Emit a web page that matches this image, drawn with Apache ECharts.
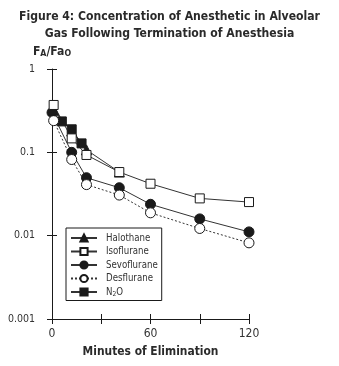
<!DOCTYPE html>
<html>
<head>
<meta charset="utf-8">
<script src="https://cdn.jsdelivr.net/npm/echarts@6/dist/echarts.min.js"></script>
<style>
  html, body { margin: 0; padding: 0; background: #fff; }
  #chart { width: 339px; height: 366px; }
</style>
</head>
<body>
<div id="chart"></div>
<script>
// Alveolar concentration ratio (FA/FA0) after anesthesia ends, by agent
const halothaneMin = [1, 12, 21, 41];
const halothaneVal = [0.32, 0.18, 0.107, 0.058];

const isofluraneMin = [1, 12, 21, 41, 60, 90, 120];
const isofluraneVal = [0.37, 0.147, 0.093, 0.058, 0.042, 0.028, 0.0253];

const sevofluraneMin = [0, 12, 21, 41, 60, 90, 120];
const sevofluraneVal = [0.30, 0.100, 0.0496, 0.0376, 0.0238, 0.0159, 0.0111];

const desfluraneMin = [1, 12, 21, 41, 60, 90, 120];
const desfluraneVal = [0.24, 0.082, 0.041, 0.0307, 0.0188, 0.0122, 0.0082];

const n2oMin = [6, 12, 18];
const n2oVal = [0.235, 0.189, 0.128];

const legendOrder = ['Halothane', 'Isoflurane', 'Sevoflurane', 'Desflurane', 'N2O'];
const xLabelled = [0, 60, 120];

const TITLE = 'Figure 4: Concentration of Anesthetic in Alveolar\nGas Following Termination of Anesthesia';

// Pick the narrowest installed sans face; long strings are sized to fit.
const ctx = document.createElement('canvas').getContext('2d');
function width(font, text) { ctx.font = font; return ctx.measureText(text).width; }
function installed(face) {
  const probe = 'Figure 4: Concentration mmmwwwiii 0.001';
  return ['monospace', 'serif'].some(fb =>
    width('bold 20px "' + face + '", ' + fb, probe) !== width('bold 20px ' + fb, probe));
}
const candidates = ['Liberation Sans Narrow', 'Arial Narrow', 'Nimbus Sans Narrow', 'DejaVu Sans Condensed', 'Liberation Sans'];
const FACE = candidates.find(installed) || 'sans-serif';
const FONT = '"' + FACE + '", sans-serif';
const NARROW = /Narrow/.test(FACE);

function fitSize(base, weight, text, target) {
  const w = width(weight + ' ' + base + 'px ' + FONT, text);
  return Math.round(Math.min(base, base * target / w) * 10) / 10;
}
const titleSize = fitSize(14, 'bold', TITLE.split('\n')[0], 300);
const nameSize = fitSize(14, 'bold', 'Minutes of Elimination', 136);
const legendSize = fitSize(12, 'normal', 'Sevoflurane', 52);
const xLabelSize = NARROW ? 13.5 : 12;
const yLabelSize = NARROW ? 11.5 : 10.5;

const INK = '#1a1a1a';
const TEXT = '#2a2a2a';

function pairs(xs, ys) {
  return xs.map((x, i) => [x, ys[i]]);
}

function agent(name, xs, ys, symbol, size, filled, dashed) {
  return {
    name: name,
    type: 'line',
    xAxisIndex: 0,
    yAxisIndex: 0,
    data: pairs(xs, ys),
    symbol: symbol,
    symbolSize: size,
    showAllSymbol: true,
    itemStyle: { color: filled ? INK : '#fff', borderColor: INK, borderWidth: 1 },
    lineStyle: { color: '#333', width: 1, type: dashed ? [2, 2] : 'solid' },
    emphasis: { disabled: true },
    animation: false
  };
}

const chart = echarts.init(document.getElementById('chart'));

const baseX = { type: 'value', min: 0, max: 120, interval: 30, gridIndex: 0, position: 'bottom' };
const baseY = { type: 'log', logBase: 10, min: 0.001, max: 1, gridIndex: 0, position: 'left' };

chart.setOption({
  animation: false,
  backgroundColor: '#fff',
  title: {
    text: TITLE,
    left: 'center',
    top: 9,
    padding: [0, 0, 0, 11],
    textStyle: { fontFamily: FONT, fontSize: titleSize, fontWeight: 'bold', color: TEXT, lineHeight: 16.5 }
  },
  legend: {
    orient: 'vertical',
    left: 66,
    top: 228,
    data: legendOrder,
    itemWidth: 26,
    itemHeight: 9,
    itemGap: 3.5,
    borderColor: INK,
    borderWidth: 1,
    padding: [5, 4, 3, 4],
    selectedMode: false,
    formatter: function (name) {
      return name === 'N2O' ? '{t|N}{s|2}{t|O}' : '{t|' + name + '}';
    },
    textStyle: {
      fontFamily: FONT, fontSize: legendSize, color: '#333', padding: [0, 0, 0, 4],
      rich: {
        t: { fontFamily: FONT, fontSize: legendSize, color: '#333' },
        s: { fontFamily: FONT, fontSize: legendSize * 0.7, color: '#333', padding: [4, 0, 0, 0] }
      }
    }
  },
  grid: { left: 52, right: 90, top: 69, bottom: 47, containLabel: false },
  xAxis: [
    Object.assign({}, baseX, {
      axisLine: { show: true, onZero: false, lineStyle: { color: INK, width: 1 } },
      axisTick: { show: true, inside: false, length: 5, lineStyle: { color: INK } },
      axisLabel: {
        show: true, margin: 9, fontFamily: FONT, fontSize: xLabelSize, color: '#333',
        formatter: v => (xLabelled.indexOf(v) >= 0 ? String(v) : '')
      },
      splitLine: { show: false },
      name: 'Minutes of Elimination',
      nameLocation: 'middle',
      nameGap: 27,
      nameTextStyle: { fontFamily: FONT, fontSize: nameSize, fontWeight: 'bold', color: TEXT }
    }),
    Object.assign({}, baseX, {
      axisLine: { show: false },
      axisTick: { show: true, inside: true, length: 5, lineStyle: { color: INK } },
      axisLabel: { show: false },
      splitLine: { show: false }
    })
  ],
  yAxis: [
    Object.assign({}, baseY, {
      axisLine: { show: true, lineStyle: { color: INK, width: 1 } },
      axisTick: { show: true, inside: false, length: 5, lineStyle: { color: INK } },
      axisLabel: {
        show: true, margin: 17, fontFamily: FONT, fontSize: yLabelSize, color: '#333',
        formatter: v => String(v)
      },
      splitLine: { show: false },
      minorTick: { show: false },
      name: '{b|F}{s|A}{b|/Fa}{s|O}',
      nameLocation: 'end',
      nameGap: 11,
      nameTextStyle: {
        align: 'center',
        rich: {
          b: { fontFamily: FONT, fontSize: titleSize, fontWeight: 'bold', color: TEXT },
          s: { fontFamily: FONT, fontSize: titleSize * 0.72, fontWeight: 'bold', color: TEXT, padding: [3, 0, 0, 0] }
        }
      }
    }),
    Object.assign({}, baseY, {
      axisLine: { show: false },
      axisTick: { show: true, inside: true, length: 5, lineStyle: { color: INK } },
      axisLabel: { show: false },
      splitLine: { show: false }
    })
  ],
  series: [
    agent('N2O', n2oMin, n2oVal, 'rect', 9, true, false),
    agent('Sevoflurane', sevofluraneMin, sevofluraneVal, 'circle', 10, true, false),
    agent('Desflurane', desfluraneMin, desfluraneVal, 'circle', 10, false, true),
    agent('Halothane', halothaneMin, halothaneVal, 'triangle', 10, true, false),
    agent('Isoflurane', isofluraneMin, isofluraneVal, 'rect', 9, false, false)
  ]
});
</script>
</body>
</html>
